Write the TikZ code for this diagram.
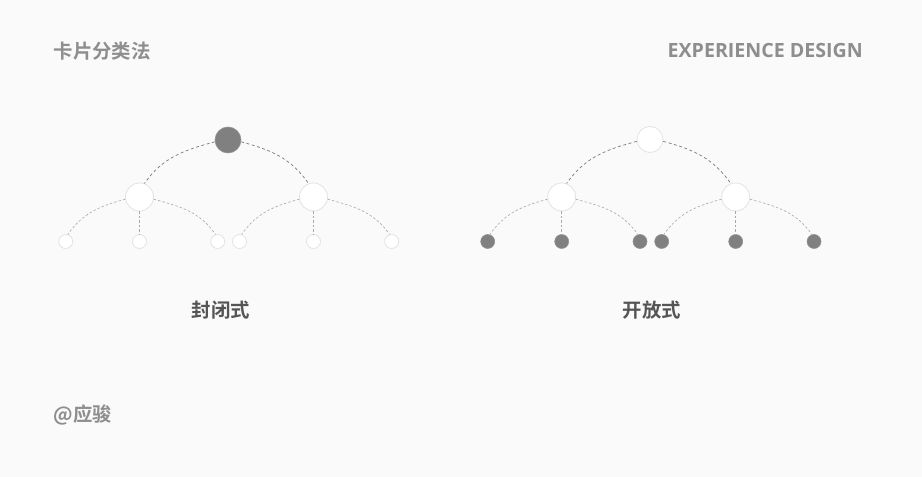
\documentclass[tikz,border=0pt]{standalone}
\usepackage{fontspec}
\newfontfamily\cjk{Noto Sans CJK SC Bold}
\newfontfamily\latinb{Open Sans Bold}
\definecolor{bg}{HTML}{FAFAFA}
\definecolor{darkfill}{HTML}{808080}
\definecolor{lightring}{HTML}{E3E3E3}
\definecolor{headgray}{HTML}{8E8E8E}
\definecolor{labelgray}{HTML}{555555}
\definecolor{arcdark}{HTML}{7A7A7A}
\definecolor{arclight}{HTML}{A8A8A8}
\begin{document}
\begin{tikzpicture}[x=1pt,y=1pt,
  rootdark/.style={circle,fill=darkfill,draw=darkfill!85!white,line width=0.6pt,minimum size=26pt,inner sep=0pt},
  rootwhite/.style={circle,fill=white,draw=lightring,line width=0.8pt,minimum size=26pt,inner sep=0pt},
  midwhite/.style={circle,fill=white,draw=lightring,line width=0.8pt,minimum size=28pt,inner sep=0pt},
  leafwhite/.style={circle,fill=white,draw=lightring,line width=0.8pt,minimum size=14pt,inner sep=0pt},
  leafdark/.style={circle,fill=darkfill,draw=darkfill!85!white,line width=0.6pt,minimum size=14pt,inner sep=0pt},
  uparc/.style={draw=arcdark,line width=0.7pt,dash pattern=on 3pt off 2.5pt},
  lowarc/.style={draw=arclight,line width=0.6pt,dash pattern=on 2.5pt off 2pt},
  head/.style={text=headgray,inner sep=0pt},
  lbl/.style={text=labelgray,inner sep=0pt,font=\cjk\fontsize{19.4}{21}\selectfont}
]
\fill[bg] (0,0) rectangle (922,477);
\useasboundingbox (0,0) rectangle (922,477);

% texts
\node[head,anchor=west,font=\cjk\fontsize{19.4}{21}\selectfont] (t1) at (53.5,426) {卡片分类法};
\node[head,anchor=east,font=\latinb\fontsize{19.6}{21}\selectfont] (t2) at (863,426) {EXPERIENCE DESIGN};
\node[lbl] (l1) at (221,167) {封闭式};
\node[lbl] (l2) at (652,167) {开放式};
\node[head,anchor=west,font=\cjk\fontsize{19.4}{21}\selectfont] (t3) at (53.5,62) {@应骏};

% left tree (closed)
\node[rootdark] (Ar) at (228,337) {};
\node[midwhite] (Aml) at (139.5,280) {};
\node[midwhite] (Amr) at (313.5,280) {};
\node[leafwhite] (A1) at (65.7,235.5) {};
\node[leafwhite] (A2) at (139.5,235.5) {};
\node[leafwhite] (A3) at (217.7,235.5) {};
\node[leafwhite] (A4) at (239.5,235.5) {};
\node[leafwhite] (A5) at (313.5,235.5) {};
\node[leafwhite] (A6) at (391.7,235.5) {};

% right tree (open)
\node[rootwhite] (Br) at (650,337.5) {};
\node[midwhite] (Bml) at (561.7,280) {};
\node[midwhite] (Bmr) at (735.7,280) {};
\node[leafdark] (B1) at (487.7,235.5) {};
\node[leafdark] (B2) at (561.7,235.5) {};
\node[leafdark] (B3) at (640,235.5) {};
\node[leafdark] (B4) at (661.7,235.5) {};
\node[leafdark] (B5) at (735.7,235.5) {};
\node[leafdark] (B6) at (814,235.5) {};

\foreach \t in {A,B}{
  \draw[uparc] (\t r.188) to[out=195,in=55] (\t ml.70);
  \draw[uparc] (\t r.-8) to[out=-15,in=125] (\t mr.110);
  \draw[lowarc] (\t ml.189) to[out=195,in=55] (\t 1.73);
  \draw[lowarc] (\t ml.south) -- (\t 2.north);
  \draw[lowarc] (\t ml.-9) to[out=-15,in=125] (\t 3.107);
  \draw[lowarc] (\t mr.189) to[out=195,in=55] (\t 4.73);
  \draw[lowarc] (\t mr.south) -- (\t 5.north);
  \draw[lowarc] (\t mr.-9) to[out=-15,in=125] (\t 6.107);
}
\end{tikzpicture}
\end{document}
